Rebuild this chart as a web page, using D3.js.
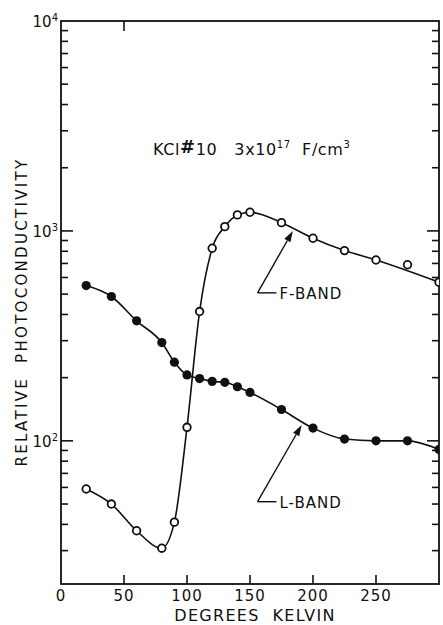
<!DOCTYPE html>
<html>
<head>
<meta charset="utf-8">
<script src="https://cdn.jsdelivr.net/npm/d3@7"></script>
<style>
  body { margin: 0; background: #fff; }
  text { font-family: "DejaVu Sans", sans-serif; fill: #111; white-space: pre; }
</style>
</head>
<body>
<div id="chart"></div>
<script>
// temperature (K) of the measured points
var fTemps = [20, 40, 60, 80, 90, 100, 110, 120, 130, 140, 150, 175, 200, 225, 250, 275, 300];
// F-band photoconductivity, open circles
var fValues = [59, 50, 37.3, 30.8, 41, 116, 413, 827, 1048, 1192, 1227, 1095, 923, 806, 727, 690, 570];
// points the drawn curve does not go through
var fOffCurve = [275];

var lTemps = [20, 40, 60, 80, 90, 100, 110, 120, 130, 140, 150, 175, 200, 225, 250, 275, 300];
// L-band photoconductivity, filled circles
var lValues = [549, 487, 373, 294, 237, 206, 198, 192, 190, 181, 170, 141, 115, 102, 100, 100, 91];

var xTicks = [0, 50, 100, 150, 200, 250];
var yDecades = [100, 1000, 10000];
var yMinor = [30, 40, 50, 60, 70, 80, 90, 200, 300, 400, 500, 600, 700, 800, 900,
              2000, 3000, 4000, 5000, 6000, 7000, 8000, 9000];

// annotations: [label, tip T, tip value, tail T, tail value, leader end T]
var notes = [
  ["F-BAND", 184, 1000, 156, 507, 171],
  ["L-BAND", 191, 119, 156, 51.3, 171]
];

var W = 443, H = 625;
var pL = 61, pR = 439, pT = 21, pB = 584;

var svg = d3.select("#chart").append("svg")
    .attr("width", W)
    .attr("height", H);

var x = d3.scaleLinear().domain([0, 300]).range([pL, pR]);
var y = d3.scaleLog().domain([20.8, 10000]).range([pB, pT]);

svg.append("clipPath").attr("id", "plotclip")
  .append("rect")
    .attr("x", pL).attr("y", pT)
    .attr("width", pR - pL).attr("height", pB - pT);

// frame
svg.append("rect")
    .attr("x", pL).attr("y", pT)
    .attr("width", pR - pL).attr("height", pB - pT)
    .attr("fill", "none")
    .attr("stroke", "#111")
    .attr("stroke-width", 1.8);

// y ticks, both sides pointing in
var yTickData = yMinor.map(v => ({v: v, len: 7})).concat([100, 1000].map(v => ({v: v, len: 12})));
svg.selectAll(".ytl").data(yTickData).enter().append("line")
    .attr("x1", pL).attr("x2", d => pL + d.len)
    .attr("y1", d => y(d.v)).attr("y2", d => y(d.v))
    .attr("stroke", "#111").attr("stroke-width", 1.6);
svg.selectAll(".ytr").data(yTickData).enter().append("line")
    .attr("x1", pR).attr("x2", d => pR - d.len)
    .attr("y1", d => y(d.v)).attr("y2", d => y(d.v))
    .attr("stroke", "#111").attr("stroke-width", 1.6);

// x ticks
svg.selectAll(".xtb").data(xTicks.slice(1)).enter().append("line")
    .attr("x1", d => x(d)).attr("x2", d => x(d))
    .attr("y1", pB).attr("y2", pB - 9)
    .attr("stroke", "#111").attr("stroke-width", 1.6);
svg.selectAll(".xtt").data([50]).enter().append("line")
    .attr("x1", d => x(d)).attr("x2", d => x(d))
    .attr("y1", pT).attr("y2", pT + 10)
    .attr("stroke", "#111").attr("stroke-width", 1.6);

svg.selectAll(".xl").data(xTicks).enter().append("text")
    .attr("x", d => x(d)).attr("y", 601)
    .attr("text-anchor", "middle")
    .attr("font-size", 15)
    .attr("letter-spacing", 1)
    .text(d => d);

// decade labels 10^n
var exps = {100: "2", 1000: "3", 10000: "4"};
yDecades.forEach(v => {
  var t = svg.append("text")
      .attr("x", pL - 3).attr("y", y(v) + 6)
      .attr("text-anchor", "end")
      .attr("font-size", 15);
  t.append("tspan").text("10");
  t.append("tspan").attr("dy", -6).attr("font-size", 10).text(exps[v]);
});

svg.append("text")
    .attr("x", 255).attr("y", 621)
    .attr("text-anchor", "middle")
    .attr("font-size", 16)
    .attr("letter-spacing", 1.3)
    .text("DEGREES  KELVIN");

svg.append("text")
    .attr("transform", "translate(27,312) rotate(-90)")
    .attr("text-anchor", "middle")
    .attr("font-size", 15)
    .attr("letter-spacing", 2.3)
    .text("RELATIVE  PHOTOCONDUCTIVITY");

// title
var title = svg.append("text")
    .attr("x", 153).attr("y", 155)
    .attr("font-size", 16)
    .attr("letter-spacing", 0.6);
title.append("tspan").text("KCl");
title.append("tspan").attr("font-size", 18).attr("font-weight", "bold").attr("dy", -2).text("#");
title.append("tspan").attr("dy", 2).text("10   3x10");
title.append("tspan").attr("dy", -7).attr("font-size", 10).text("17");
title.append("tspan").attr("dy", 7).text("  F/cm");
title.append("tspan").attr("dy", -7).attr("font-size", 10).text("3");

// curves
var line = d3.line()
    .x(d => x(d[0]))
    .y(d => y(d[1]))
    .curve(d3.curveMonotoneX);

var fPts = d3.zip(fTemps, fValues);
var lPts = d3.zip(lTemps, lValues);

var plot = svg.append("g").attr("clip-path", "url(#plotclip)");

plot.append("path")
    .datum(fPts.filter(d => fOffCurve.indexOf(d[0]) < 0))
    .attr("d", line)
    .attr("fill", "none").attr("stroke", "#111").attr("stroke-width", 1.6);
plot.append("path")
    .datum(lPts)
    .attr("d", line)
    .attr("fill", "none").attr("stroke", "#111").attr("stroke-width", 1.6);

plot.selectAll(".fp").data(fPts).enter().append("circle")
    .attr("cx", d => x(d[0])).attr("cy", d => y(d[1]))
    .attr("r", 3.8)
    .attr("fill", "#fff").attr("stroke", "#111").attr("stroke-width", 1.8);
plot.selectAll(".lp").data(lPts).enter().append("circle")
    .attr("cx", d => x(d[0])).attr("cy", d => y(d[1]))
    .attr("r", 4.6)
    .attr("fill", "#111");

// annotation arrows
notes.forEach(n => {
  var tx = x(n[1]), ty = y(n[2]), bx = x(n[3]), by = y(n[4]);
  var ang = Math.atan2(ty - by, tx - bx);
  var hl = 11, hw = 3.5;
  var baseX = tx - hl * Math.cos(ang), baseY = ty - hl * Math.sin(ang);
  svg.append("line")
      .attr("x1", bx).attr("y1", by).attr("x2", baseX).attr("y2", baseY)
      .attr("stroke", "#111").attr("stroke-width", 1.4);
  svg.append("path")
      .attr("d", "M" + tx + "," + ty +
        "L" + (baseX + hw * Math.sin(ang)) + "," + (baseY - hw * Math.cos(ang)) +
        "L" + (baseX - hw * Math.sin(ang)) + "," + (baseY + hw * Math.cos(ang)) + "Z")
      .attr("fill", "#111");
  svg.append("line")
      .attr("x1", bx).attr("y1", by).attr("x2", x(n[5])).attr("y2", by)
      .attr("stroke", "#111").attr("stroke-width", 1.4);
  svg.append("text")
      .attr("x", x(n[5]) + 3).attr("y", by + 6)
      .attr("font-size", 15)
      .attr("letter-spacing", 1)
      .text(n[0]);
});
</script>
</body>
</html>
